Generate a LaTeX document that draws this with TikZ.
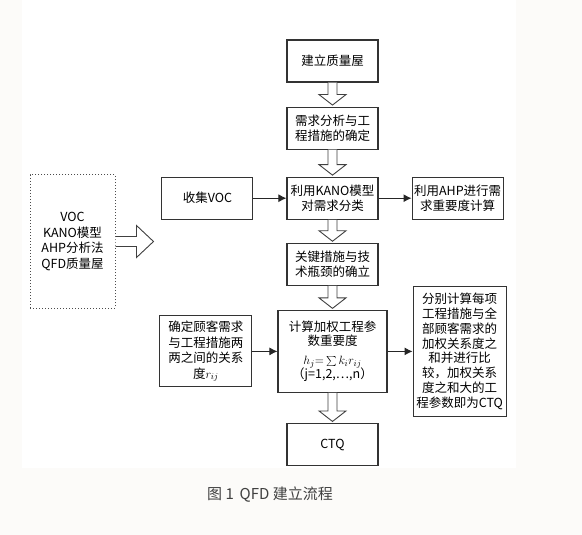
\documentclass[tikz,border=0pt]{standalone}
\usepackage{fontspec}
\setmainfont{Noto Sans CJK SC}
\usetikzlibrary{positioning,calc,arrows.meta}
\definecolor{paper}{RGB}{252,251,249}

% hollow block arrow pointing down, from one box to the next
\newcommand\hollowdown[2]{%
  \draw[hollow] let \p1=(#1.south), \p2=(#2.north) in
    (\x1-4.5pt,\y1) -- (\x1-4.5pt,\y2+12pt) -- (\x1-13.5pt,\y2+12pt) -- (\x1,\y2+1.5pt)
    -- (\x1+13.5pt,\y2+12pt) -- (\x1+4.5pt,\y2+12pt) -- (\x1+4.5pt,\y1);}

\begin{document}
\begin{tikzpicture}[
  x=1pt, y=-1pt, >={Latex[length=8pt,width=8pt]},
  font=\fontsize{12.5}{15.5}\selectfont, node distance=24pt and 33pt,
  box/.style={draw=black!80, line width=1.1pt, align=center, minimum width=91pt, minimum height=42pt, inner sep=2pt},
  tall/.style={box, minimum height=#1},
  hollow/.style={draw=black!75, line width=0.9pt, fill=white},
  link/.style={->, draw=black!85, line width=1pt}]
\fill[paper] (0,0) rectangle (582,535);
\fill[white] (22,0) rectangle (516,468);
\useasboundingbox (0,0) rectangle (582,535);
\node[box] (house) at (332.5,61) {建立质量屋};
\node[box, below=of house] (demand) {需求分析与工\\程措施的确定};
\node[box, below=27pt of demand] (kano) {利用KANO模型\\对需求分类};
\node[box, right=of kano] (ahp) {利用AHP进行需\\求重要度计算};
\node[box, left=of kano] (voc) {收集VOC};
\node[box, below=23pt of kano] (key) {关键措施与技\\术瓶颈的确立};
\node[tall=82pt, minimum width=109pt, below=of key, font=\fontsize{12.5}{14.5}\selectfont] (calc) {计算加权工程参\\数重要度\\[4pt]$h_j{=}\textstyle\sum k_i r_{ij}$\\（j=1,2,…,n）};
\node[tall=71pt, minimum width=92pt, left=25pt of calc] (rel) {确定顾客需求\\与工程措施两\\两之间的关系\\度$r_{ij}$};
\node[tall=130pt, minimum width=93pt, right=25pt of calc, font=\fontsize{12.5}{14.8}\selectfont] (result) {分别计算每项\\工程措施与全\\部顾客需求的\\加权关系度之\\和并进行比\\较，加权关系\\度之和大的工\\程参数即为CTQ};
\node[box, below=30pt of calc] (ctq) {CTQ};
\node[draw=black!70, line width=1pt, dotted, minimum width=85pt, minimum height=133pt, align=center] (tools) at (72.5,241.5) {VOC\\KANO模型\\AHP分析法\\QFD质量屋};
\node[font=\fontsize{15}{18}\selectfont, text=black!75] (cap) at (270,495) {图 1\, QFD 建立流程};
\hollowdown{house}{demand}
\hollowdown{demand}{kano}
\hollowdown{kano}{key}
\hollowdown{key}{calc}
\hollowdown{calc}{ctq}
\draw[hollow] let \p1=(tools.east) in
  (\x1,\y1+5pt) -- (\x1+21pt,\y1+5pt) -- (\x1+21pt,\y1+16pt) -- (\x1+38pt,\y1)
  -- (\x1+21pt,\y1-16pt) -- (\x1+21pt,\y1-5pt) -- (\x1,\y1-5pt);
\draw[link] (voc) -- (kano);
\draw[link] (kano) -- (ahp);
\draw[link] (rel) -- (calc);
\draw[link] (calc) -- (result);
\end{tikzpicture}
\end{document}
